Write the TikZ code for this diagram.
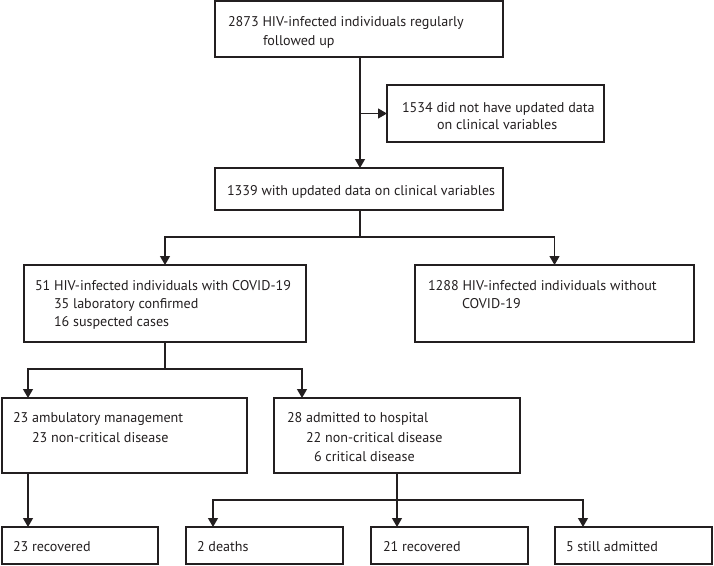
\documentclass[tikz,border=0pt]{standalone}
\usepackage{fontspec}
\setmainfont{PT Sans}
\usetikzlibrary{arrows.meta}
\definecolor{ink}{HTML}{231F20}
\tikzset{
  box/.style={draw=ink, line width=1.2pt, rectangle, inner sep=0pt, outer sep=0pt, anchor=north west},
  txt/.style={anchor=base west, inner sep=0pt, outer sep=0pt, text=ink, font=\fontsize{14.1}{17}\selectfont},
  line/.style={draw=ink, line width=1.2pt},
  arr/.style={line, -{Triangle[length=9pt,width=10pt]}},
}
\begin{document}
\begin{tikzpicture}[x=1pt,y=-1pt]
\useasboundingbox (0,0) rectangle (714,565);
% boxes
\node[box, minimum width=288pt, minimum height=56pt] (b1) at (215,1) {};
\node[box, minimum width=217pt, minimum height=57pt] (b1534) at (387,85) {};
\node[box, minimum width=288pt, minimum height=42pt] (b2) at (215,168) {};
\node[box, minimum width=282pt, minimum height=77pt] (b51) at (24,265) {};
\node[box, minimum width=279pt, minimum height=77pt] (b1288) at (415,265) {};
\node[box, minimum width=245pt, minimum height=75pt] (b23a) at (2,398) {};
\node[box, minimum width=246pt, minimum height=75pt] (b28) at (274,398) {};
\node[box, minimum width=156pt, minimum height=37pt] (r23) at (2,527) {};
\node[box, minimum width=157pt, minimum height=37pt] (d2) at (186,527) {};
\node[box, minimum width=157pt, minimum height=37pt] (r21) at (371,527) {};
\node[box, minimum width=157pt, minimum height=37pt] (s5) at (555,527) {};
% texts
\node[txt] (t1a) at (228,26) {2873 HIV-infected individuals regularly};
\node[txt] (t1b) at (263,45) {followed up};
\node[txt] (t2a) at (402,112) {1534 did not have updated data};
\node[txt] (t2b) at (437,129) {on clinical variables};
\node[txt] (t3) at (227,195) {1339 with updated data on clinical variables};
\node[txt] (t4a) at (35,290) {51 HIV-infected individuals with COVID-19};
\node[txt] (t4b) at (54,308) {35 laboratory confirmed};
\node[txt] (t4c) at (54,326) {16 suspected cases};
\node[txt] (t5a) at (428,290) {1288 HIV-infected individuals without};
\node[txt] (t5b) at (462,308) {COVID-19};
\node[txt] (t6a) at (13,422) {23 ambulatory management};
\node[txt] (t6b) at (32,442) {23 non-critical disease};
\node[txt] (t7a) at (287,422) {28 admitted to hospital};
\node[txt] (t7b) at (306,442) {22 non-critical disease};
\node[txt] (t7c) at (314,461) {6 critical disease};
\node[txt] (t8) at (13,551) {23 recovered};
\node[txt] (t9) at (197,551) {2 deaths};
\node[txt] (t10) at (383,551) {21 recovered};
\node[txt] (t11) at (566,551) {5 still admitted};
% split points
\coordinate (s1) at (360,237);
\coordinate (s2) at (165,369);
\coordinate (s3) at (397,500);
% connectors
\draw[arr] (b1.south -| 360,0) -- (b2.north -| 360,0);
\draw[arr] (b1534.west -| 360,0) -- (b1534.west);
\draw[line] (b2.south -| 360,0) -- (s1);
\draw[arr] (s1) -| (b51.north);
\draw[arr] (s1) -| (b1288.north);
\draw[line] (b51.south) -- (s2);
\draw[arr] (s2) -| ([xshift=26pt]b23a.north west);
\draw[arr] (s2) -| ([xshift=28pt]b28.north west);
\draw[arr] ([xshift=26pt]b23a.south west) -- ([xshift=26pt]r23.north west);
\draw[line] (b28.south) -- (s3);
\draw[arr] (s3) -| ([xshift=27pt]d2.north west);
\draw[arr] (s3) -- ([xshift=26pt]r21.north west);
\draw[arr] (s3) -| ([xshift=28pt]s5.north west);
\end{tikzpicture}
\end{document}
